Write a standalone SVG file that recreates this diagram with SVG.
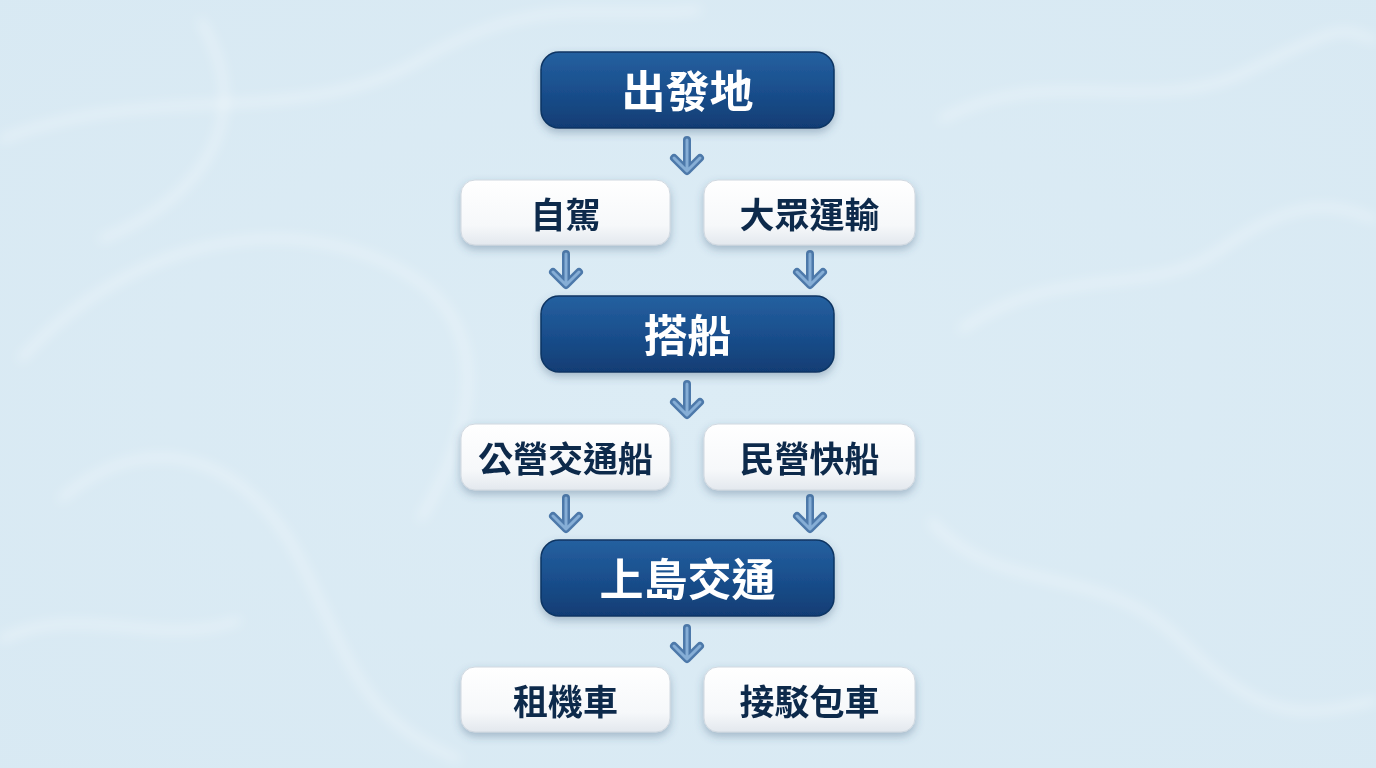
<svg xmlns="http://www.w3.org/2000/svg" width="1376" height="768" viewBox="0 0 1376 768">
<defs>
<radialGradient id="bg" cx="0.5" cy="0.5" r="0.75">
<stop offset="0" stop-color="#dcecf5"/>
<stop offset="1" stop-color="#d8e9f3"/>
</radialGradient>
<linearGradient id="dark" x1="0" y1="0" x2="0" y2="1">
<stop offset="0" stop-color="#2560a0"/>
<stop offset="0.5" stop-color="#1a4f8d"/>
<stop offset="1" stop-color="#113d74"/>
</linearGradient>
<linearGradient id="light" x1="0" y1="0" x2="0" y2="1">
<stop offset="0" stop-color="#ffffff"/>
<stop offset="0.7" stop-color="#f6f8fa"/>
<stop offset="1" stop-color="#e3e8ee"/>
</linearGradient>
<filter id="sh" x="-20%" y="-30%" width="140%" height="170%">
<feDropShadow dx="0" dy="4" stdDeviation="4" flood-color="#3a5a7a" flood-opacity="0.35"/>
</filter>
<filter id="blur" x="-10%" y="-10%" width="120%" height="120%">
<feGaussianBlur stdDeviation="6"/>
</filter>
<g id="arr">
<path d="M0,-16 V12 M-13,2 L0,15 L13,2" fill="none" stroke="#4d79aa" stroke-width="8" stroke-linecap="round" stroke-linejoin="round"/>
<path d="M0,-16 V12 M-13,2 L0,15 L13,2" fill="none" stroke="#86aed6" stroke-width="3" stroke-linecap="round" stroke-linejoin="round"/>
</g>
</defs>
<style>
.dk{fill:url(#dark);stroke:#0e3563;stroke-width:1.5}
.lt{fill:url(#light);stroke:#d0d8e0;stroke-width:1}
.tw{font-family:"Noto Sans CJK TC","Noto Sans CJK SC",sans-serif;font-weight:700;font-size:44px;fill:#ffffff;text-anchor:middle;dominant-baseline:central}
.td{font-family:"Noto Sans CJK TC","Noto Sans CJK SC",sans-serif;font-weight:700;font-size:35px;fill:#0f2b4c;text-anchor:middle;dominant-baseline:central}
.rip{fill:none;stroke:#ffffff;stroke-opacity:0.5;stroke-width:5}
</style>
<rect width="1376" height="768" fill="url(#bg)"/>
<g filter="url(#blur)">
<path class="rip" d="M0,140 C150,80 300,130 420,60 S600,20 700,10"/>
<path class="rip" d="M20,360 C120,250 260,210 380,260 S480,420 420,520"/>
<path class="rip" d="M60,500 C150,420 250,460 300,560 S360,720 460,760"/>
<path class="rip" d="M940,120 C1050,60 1150,120 1250,70 S1340,30 1376,40"/>
<path class="rip" d="M960,330 C1060,260 1150,300 1220,250 S1330,200 1376,220"/>
<path class="rip" d="M930,520 C1000,600 1100,560 1180,640 S1300,720 1376,700"/>
<path class="rip" d="M0,640 C80,600 160,650 240,620"/>
<path class="rip" d="M200,20 C260,120 200,200 100,240"/>
</g>
<g id="connectors">
<use href="#arr" x="687" y="156"/>
<use href="#arr" x="566" y="270"/>
<use href="#arr" x="810" y="270"/>
<use href="#arr" x="687" y="400"/>
<use href="#arr" x="566" y="514"/>
<use href="#arr" x="810" y="514"/>
<use href="#arr" x="687" y="644"/>
</g>
<g id="n-start" filter="url(#sh)"><rect class="dk" x="541" y="52" width="293" height="76" rx="18"/><text class="tw" x="687.5" y="89">出發地</text></g>
<g id="n-drive" filter="url(#sh)"><rect class="lt" x="461" y="180" width="209" height="65" rx="14"/><text class="td" x="565.5" y="212">自駕</text></g>
<g id="n-public" filter="url(#sh)"><rect class="lt" x="704" y="180" width="211" height="65" rx="14"/><text class="td" x="809.5" y="212">大眾運輸</text></g>
<g id="n-boat" filter="url(#sh)"><rect class="dk" x="541" y="296" width="293" height="76" rx="18"/><text class="tw" x="687.5" y="333">搭船</text></g>
<g id="n-ferry" filter="url(#sh)"><rect class="lt" x="461" y="424" width="209" height="66" rx="14"/><text class="td" x="565.5" y="456">公營交通船</text></g>
<g id="n-fast" filter="url(#sh)"><rect class="lt" x="704" y="424" width="211" height="66" rx="14"/><text class="td" x="809.5" y="456">民營快船</text></g>
<g id="n-island" filter="url(#sh)"><rect class="dk" x="541" y="540" width="293" height="76" rx="18"/><text class="tw" x="687.5" y="577">上島交通</text></g>
<g id="n-scooter" filter="url(#sh)"><rect class="lt" x="461" y="667" width="209" height="65" rx="14"/><text class="td" x="565.5" y="699">租機車</text></g>
<g id="n-shuttle" filter="url(#sh)"><rect class="lt" x="704" y="667" width="211" height="65" rx="14"/><text class="td" x="809.5" y="699">接駁包車</text></g>
</svg>
